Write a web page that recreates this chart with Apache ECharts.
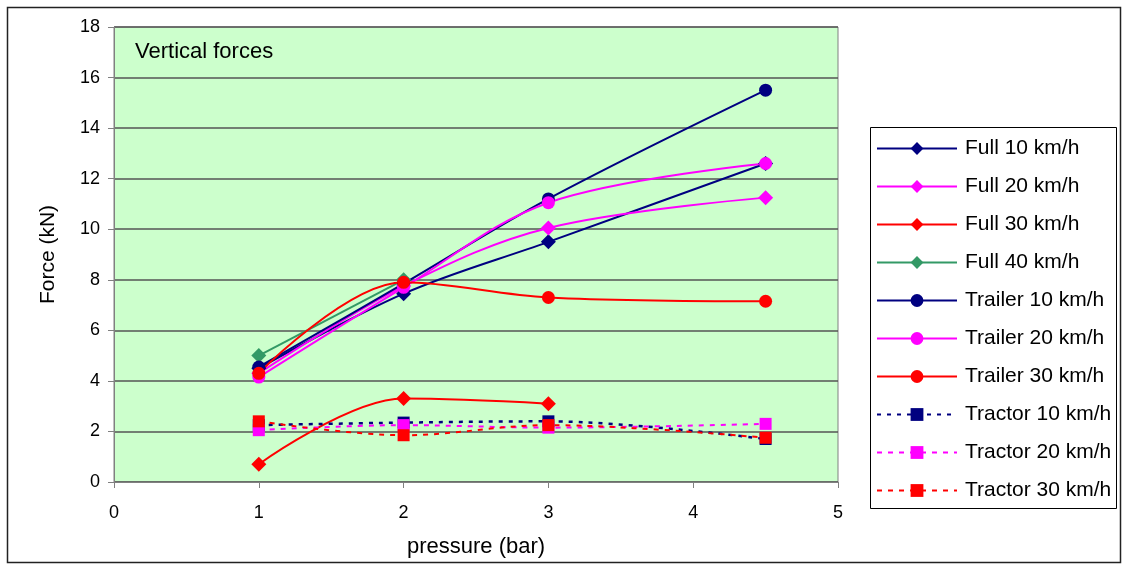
<!DOCTYPE html>
<html>
<head>
<meta charset="utf-8">
<script src="https://cdn.jsdelivr.net/npm/echarts@6/dist/echarts.min.js"></script>
<style>
html,body{margin:0;padding:0;background:#fff;}
#chart{width:1123px;height:565px;}
</style>
</head>
<body>
<div id="chart"></div>
<script>
var pressure = [1, 2, 3, 4.5];
var seriesNames = ['Full 10 km/h','Full 20 km/h','Full 30 km/h','Full 40 km/h','Trailer 10 km/h','Trailer 20 km/h','Trailer 30 km/h','Tractor 10 km/h','Tractor 20 km/h','Tractor 30 km/h'];
var full10 = [4.5, 7.45, 9.5, 12.6];
var full20 = [4.3, 7.75, 10.05, 11.25];
var full30 = [0.7, 3.3, 3.1];
var full40 = [5.0, 8.0];
var trailer10 = [4.55, 7.85, 11.2, 15.5];
var trailer20 = [4.15, 7.7, 11.05, 12.6];
var trailer30 = [4.3, 7.9, 7.3, 7.15];
var tractor10 = [2.25, 2.35, 2.4, 1.7];
var tractor20 = [2.05, 2.25, 2.15, 2.3];
var tractor30 = [2.4, 1.85, 2.25, 1.75];
var xTicks = [0, 1, 2, 3, 4, 5];
var yTicks = [0, 2, 4, 6, 8, 10, 12, 14, 16, 18];

var NAVY = '#000080', MAG = '#FF00FF', RED = '#FF0000', GREEN = '#339966';
var FONT = 'Liberation Sans, Arial, sans-serif';

function pairs(vals) { return vals.map(function (v, i) { return [pressure[i], v]; }); }

function mk(name, vals, color, symbol, size, dash, width) {
  return {
    name: name, type: 'line', data: pairs(vals),
    smooth: 0.35,
    symbol: symbol, symbolSize: size,
    showAllSymbol: true,
    itemStyle: { color: color },
    lineStyle: { color: color, width: width || 2, type: dash || 'solid' },
    emphasis: { disabled: true },
    animation: false
  };
}

var series = [
  mk(seriesNames[0], full10, NAVY, 'diamond', 15),
  mk(seriesNames[1], full20, MAG, 'diamond', 15),
  mk(seriesNames[2], full30, RED, 'diamond', 15),
  mk(seriesNames[3], full40, GREEN, 'diamond', 15),
  mk(seriesNames[4], trailer10, NAVY, 'circle', 13),
  mk(seriesNames[5], trailer20, MAG, 'circle', 13),
  mk(seriesNames[6], trailer30, RED, 'circle', 13),
  mk(seriesNames[7], tractor10, NAVY, 'rect', 12, [4, 6], 2.5),
  mk(seriesNames[8], tractor20, MAG, 'rect', 12, [5, 6]),
  mk(seriesNames[9], tractor30, RED, 'rect', 12, [5, 6])
];

var chart = echarts.init(document.getElementById('chart'), null, { renderer: 'canvas' });
chart.setOption({
  animation: false,
  backgroundColor: '#fff',
  textStyle: { fontFamily: FONT },
  grid: {
    left: 114, right: 285, top: 27, bottom: 83,
    show: true, backgroundColor: '#CCFFCC', borderColor: '#808080', borderWidth: 1
  },
  xAxis: {
    type: 'value', min: xTicks[0], max: xTicks[xTicks.length - 1], interval: 1,
    name: 'pressure (bar)', nameLocation: 'middle', nameGap: 54,
    nameTextStyle: { fontSize: 22, color: '#000', fontFamily: FONT },
    axisLine: { show: true, onZero: false, lineStyle: { color: '#808080', width: 1 } },
    axisTick: { show: true, length: 6, lineStyle: { color: '#808080' } },
    axisLabel: { fontSize: 18, color: '#000', margin: 22, fontFamily: FONT },
    splitLine: { show: false }
  },
  yAxis: {
    type: 'value', min: yTicks[0], max: yTicks[yTicks.length - 1], interval: 2,
    name: 'Force (kN)', nameLocation: 'middle', nameGap: 55, nameRotate: 90,
    nameTextStyle: { fontSize: 21, color: '#000', fontFamily: FONT },
    axisLine: { show: true, lineStyle: { color: '#808080', width: 1 } },
    axisTick: { show: true, length: 6, lineStyle: { color: '#808080' } },
    axisLabel: { fontSize: 18, color: '#000', margin: 14, fontFamily: FONT },
    splitLine: { show: true, lineStyle: { color: '#555555', width: 1.5 } }
  },
  legend: {
    orient: 'vertical', left: 871, top: 133,
    itemWidth: 80, itemHeight: 16, itemGap: 17,
    textStyle: { fontSize: 21, color: '#000', fontFamily: FONT, lineHeight: 20, padding: [0, 0, 0, 3] },
    data: seriesNames,
    selectedMode: false
  },
  graphic: [
    { type: 'rect', z: -10, shape: { x: 7.5, y: 7.5, width: 1113, height: 555 },
      style: { fill: 'none', stroke: '#222', lineWidth: 1.5 } },
    { type: 'rect', z: 0, shape: { x: 870.5, y: 127.5, width: 246, height: 381 },
      style: { fill: '#fff', stroke: '#000', lineWidth: 1 } },
    { type: 'text', left: 135, top: 41, z: 10,
      style: { text: 'Vertical forces', font: '22px ' + FONT, fill: '#000' } }
  ],
  series: series
});
</script>
</body>
</html>
